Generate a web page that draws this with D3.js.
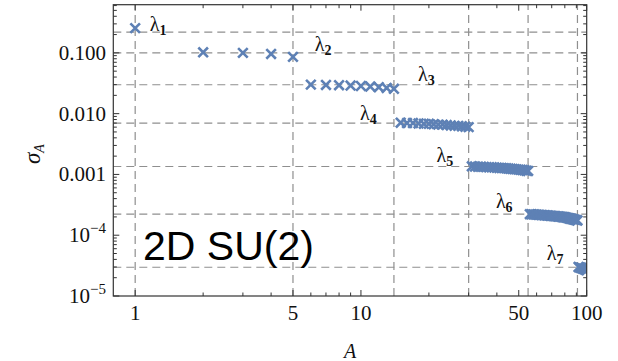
<!DOCTYPE html>
<html>
<head>
<meta charset="utf-8">
<script src="https://cdn.jsdelivr.net/npm/d3@7"></script>
<style>
  body { margin: 0; background: #fff; }
  text { font-family: "Liberation Serif", "DejaVu Serif", serif; fill: #111; }
</style>
</head>
<body>
<div id="chart"></div>
<script>
// first A of each eigenvalue block (block k holds k^2 values)
var groupStart = [1, 2, 6, 15, 31, 56, 92];
var groupNames = ["1", "2", "3", "4", "5", "6", "7"];

var sigma1 = [0.255];
var sigma2 = [0.102, 0.100, 0.096, 0.086];
var sigma3 = [0.0300, 0.0297, 0.0294, 0.0290, 0.0285, 0.0279, 0.0272, 0.0265, 0.0256];
var sigma4 = [0.0071, 0.0070, 0.0070, 0.0069, 0.0068, 0.0068, 0.0067, 0.0066,
              0.0066, 0.0065, 0.0064, 0.0063, 0.0063, 0.0062, 0.0061, 0.0060];
var sigma5 = [0.00136, 0.00135, 0.00134, 0.00134, 0.00133, 0.00132, 0.00131, 0.00131,
              0.00130, 0.00129, 0.00128, 0.00128, 0.00127, 0.00126, 0.00125, 0.00124,
              0.00123, 0.00122, 0.00121, 0.00120, 0.00119, 0.00118, 0.00117, 0.00115, 0.00114];
var sigma6 = [2.22e-4, 2.21e-4, 2.20e-4, 2.19e-4, 2.18e-4, 2.17e-4, 2.16e-4, 2.15e-4,
              2.14e-4, 2.13e-4, 2.12e-4, 2.11e-4, 2.10e-4, 2.09e-4, 2.08e-4, 2.07e-4,
              2.06e-4, 2.05e-4, 2.04e-4, 2.03e-4, 2.02e-4, 2.01e-4, 2.00e-4, 1.98e-4,
              1.97e-4, 1.95e-4, 1.93e-4, 1.91e-4, 1.89e-4, 1.87e-4, 1.85e-4, 1.83e-4,
              1.81e-4, 1.79e-4, 1.77e-4, 1.75e-4];
var sigma7 = [3.00e-5, 2.96e-5, 2.92e-5, 2.88e-5, 2.84e-5, 2.80e-5, 2.76e-5, 2.71e-5, 2.66e-5];
var sigmaGroups = [sigma1, sigma2, sigma3, sigma4, sigma5, sigma6, sigma7];

// dashed guide lines
var gridA = [1, 5, 14, 30, 55, 91];
var gridSigma = [0.22, 0.1, 0.0299, 0.0070, 0.00135, 2.22e-4, 2.97e-5];

// where each lambda label sits (A, sigma)
var labelA = [1.16, 6.25, 17.9, 9.9, 21.6, 39.6, 66.5];
var labelSigma = [0.226, 0.106, 0.0339, 0.0079, 0.00163, 2.79e-4, 3.92e-5];

var xTicks = [1, 5, 10, 50, 100];
var xTickLabels = ["1", "5", "10", "50", "100"];
var yTicks = [0.1, 0.01, 0.001, 1e-4, 1e-5];
var yTickLabels = ["0.100", "0.010", "0.001", "10|-4", "10|-5"];

var W = 618, H = 361;
var frame = {left: 113.3, right: 586.7, top: 4.7, bottom: 296};
var color = "#5e81b5";

var svg = d3.select("#chart").append("svg")
  .attr("width", W).attr("height", H);

var x = d3.scaleLog().domain([0.8, 100]).range([frame.left, frame.right]);
var y = d3.scaleLog().domain([1e-5, 0.62]).range([frame.bottom, frame.top]);

svg.append("defs").append("clipPath").attr("id", "clip")
  .append("rect")
  .attr("x", frame.left).attr("y", frame.top)
  .attr("width", frame.right - frame.left)
  .attr("height", frame.bottom - frame.top);

// grid
var grid = svg.append("g").attr("stroke", "#8f8f8f").attr("stroke-width", 1.2)
  .attr("stroke-dasharray", "8,5");
grid.selectAll("line.v").data(gridA).enter().append("line")
  .attr("x1", d => x(d)).attr("x2", d => x(d))
  .attr("y1", frame.bottom).attr("y2", frame.top);
grid.selectAll("line.h").data(gridSigma).enter().append("line")
  .attr("y1", d => y(d)).attr("y2", d => y(d))
  .attr("x1", frame.left).attr("x2", frame.right);

// minor + major ticks
var xMinor = [], yMinor = [];
[1, 10].forEach(function(b) { for (var k = 2; k <= 9; k++) if (k != 5 || b == 10) xMinor.push(b * k); });
xMinor = xMinor.filter(d => xTicks.indexOf(d) < 0);
[1e-5, 1e-4, 1e-3, 1e-2, 1e-1].forEach(function(b) { for (var k = 2; k <= 9; k++) if (b * k <= 0.62) yMinor.push(b * k); });

var ticks = svg.append("g").attr("stroke", "#333").attr("stroke-width", 1);
function vTicks(vals, len) {
  vals.forEach(function(v) {
    ticks.append("line").attr("x1", x(v)).attr("x2", x(v)).attr("y1", frame.bottom).attr("y2", frame.bottom - len);
    ticks.append("line").attr("x1", x(v)).attr("x2", x(v)).attr("y1", frame.top).attr("y2", frame.top + len);
  });
}
function hTicks(vals, len) {
  vals.forEach(function(v) {
    ticks.append("line").attr("y1", y(v)).attr("y2", y(v)).attr("x1", frame.left).attr("x2", frame.left + len);
    ticks.append("line").attr("y1", y(v)).attr("y2", y(v)).attr("x1", frame.right).attr("x2", frame.right - len);
  });
}
vTicks(xTicks, 6);
vTicks(xMinor, 3.5);
hTicks(yTicks, 6);
hTicks(yMinor, 3.5);

// markers
var points = [];
sigmaGroups.forEach(function(arr, g) {
  arr.forEach(function(s, i) { points.push({A: groupStart[g] + i, s: s}); });
});
var s = 4.8;
var marks = svg.append("g").attr("clip-path", "url(#clip)")
  .attr("stroke", color).attr("stroke-width", 2.6);
marks.selectAll("path").data(points).enter().append("path")
  .attr("transform", d => "translate(" + x(d.A) + "," + y(d.s) + ")")
  .attr("d", "M" + (-s) + "," + (-s) + "L" + s + "," + s + "M" + (-s) + "," + s + "L" + s + "," + (-s));

// frame
svg.append("rect")
  .attr("x", frame.left).attr("y", frame.top)
  .attr("width", frame.right - frame.left).attr("height", frame.bottom - frame.top)
  .attr("fill", "none").attr("stroke", "#333").attr("stroke-width", 1.2);

// tick labels
svg.selectAll("text.xt").data(xTicks).enter().append("text")
  .attr("x", d => x(d)).attr("y", 320)
  .attr("text-anchor", "middle").attr("font-size", 21)
  .text((d, i) => xTickLabels[i]);

yTicks.forEach(function(v, i) {
  var parts = yTickLabels[i].split("|");
  var t = svg.append("text").attr("x", 106).attr("y", y(v) + 7)
    .attr("text-anchor", "end").attr("font-size", 21).text(parts[0]);
  if (parts[1]) {
    t.append("tspan").attr("font-size", 15).attr("dy", -9).text(parts[1].replace("-", "\u2212"));
  }
});

// axis titles
svg.append("text").attr("x", 350).attr("y", 358)
  .attr("text-anchor", "middle").attr("font-size", 20).attr("font-style", "italic")
  .text("A");

var yl = svg.append("text").attr("transform", "translate(40,164) rotate(-90)")
  .attr("font-size", 23).attr("font-style", "italic").text("\u03c3");
yl.append("tspan").attr("font-size", 14).attr("dy", 4).text("A");

// lambda labels
labelA.forEach(function(a, i) {
  var t = svg.append("text").attr("x", x(a)).attr("y", y(labelSigma[i]))
    .attr("font-size", 20).text("\u03bb");
  t.append("tspan").attr("font-size", 14).attr("font-weight", "bold").attr("dy", 4)
    .text(groupNames[i]);
});

svg.append("text").attr("x", 143).attr("y", 259.5)
  .attr("font-size", 41)
  .style("font-family", "'Liberation Sans', Arial, sans-serif")
  .style("fill", "#000")
  .text("2D SU(2)");
</script>
</body>
</html>
